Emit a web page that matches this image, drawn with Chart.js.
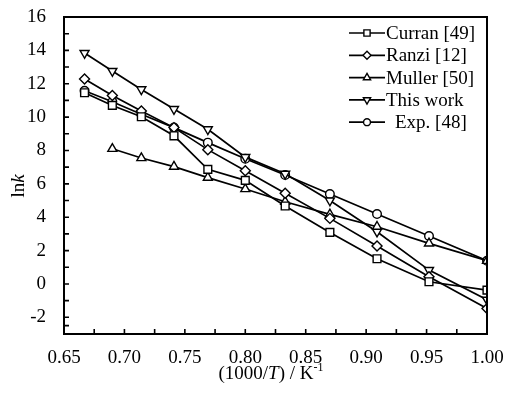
<!DOCTYPE html>
<html lang="en">
<head>
<meta charset="UTF-8">
<title>lnk vs 1000/T</title>
<script src="https://cdn.jsdelivr.net/npm/chart.js"></script>
<style>
  body { margin: 0; background: #fff; }
  #wrap { width: 506px; height: 398px; }
</style>
</head>
<body>
<div id="wrap"><canvas id="chart" width="506" height="398"></canvas></div>
<script>
// 1000/T values (T = 1500 ... 1000 K)
const invT = [0.667, 0.690, 0.714, 0.741, 0.769, 0.800, 0.833, 0.870, 0.909, 0.952, 1.000];
const curran   = [11.46, 10.70, 10.02, 8.88, 6.87, 6.21, 4.67, 3.09, 1.51, 0.13, -0.37];
const ranzi    = [12.28, 11.30, 10.36, 9.37, 8.05, 6.79, 5.43, 3.93, 2.27, 0.43, -1.47];
const muller   = [null, 8.10, 7.55, 7.03, 6.37, 5.69, 4.93, 4.17, 3.43, 2.43, 1.39];
const thisWork = [13.84, 12.76, 11.66, 10.48, 9.27, 7.60, 6.60, 5.00, 3.13, 0.83, -0.95];
const expData  = [11.58, 10.92, 10.17, 9.37, 8.47, 7.50, 6.53, 5.39, 4.19, 2.87, 1.39];

const seriesNames = ['Curran [49]', 'Ranzi [12]', 'Muller [50]', 'This work', 'Exp. [48]'];
const xTicks = [0.65, 0.70, 0.75, 0.80, 0.85, 0.90, 0.95, 1.00];
const yTicks = [-2, 0, 2, 4, 6, 8, 10, 12, 14, 16];

const FONT = '"Liberation Serif", "Times New Roman", serif';

function pts(arr) {
    return invT.map((x, i) => ({ x: x, y: arr[i] })).filter(p => p.y !== null);
}

function ds(label, arr, style, radius, rotation) {
    return {
        label: label,
        data: pts(arr),
        borderColor: '#000',
        borderWidth: 1.7,
        pointStyle: style,
        pointRadius: radius,
        pointRotation: rotation || 0,
        pointBorderWidth: 1.4,
        pointBorderColor: '#000',
        pointBackgroundColor: '#fff',
        tension: 0
    };
}

const framePlugin = {
    id: 'frame',
    afterDraw(chart) {
        const ctx = chart.ctx;
        const a = chart.chartArea;
        const xs = chart.scales.x, ys = chart.scales.y;
        ctx.save();
        ctx.strokeStyle = '#000';
        ctx.lineWidth = 2;
        ctx.strokeRect(a.left, a.top, a.right - a.left, a.bottom - a.top);

        // inward ticks (major + minor)
        ctx.lineWidth = 1.6;
        ctx.beginPath();
        for (let i = 0; i < xTicks.length; i++) {
            const vals = [xTicks[i]];
            if (i < xTicks.length - 1) vals.push((xTicks[i] + xTicks[i + 1]) / 2);
            vals.forEach(v => {
                const px = xs.getPixelForValue(v);
                ctx.moveTo(px, a.bottom);
                ctx.lineTo(px, a.bottom - 5);
            });
        }
        const yAll = [ys.min].concat(yTicks);
        for (let i = 0; i < yAll.length; i++) {
            const vals = [yAll[i]];
            if (i < yAll.length - 1) vals.push((yAll[i] + yAll[i + 1]) / 2);
            vals.forEach(v => {
                const py = ys.getPixelForValue(v);
                ctx.moveTo(a.left, py);
                ctx.lineTo(a.left + 5, py);
            });
        }
        ctx.stroke();

        // legend
        ctx.textBaseline = 'middle';
        chart.data.datasets.forEach((d, i) => {
            const y = 33 + i * 22.3;
            ctx.strokeStyle = '#000';
            ctx.lineWidth = 1.7;
            ctx.beginPath();
            ctx.moveTo(349, y);
            ctx.lineTo(385, y);
            ctx.stroke();
            ctx.fillStyle = '#fff';
            ctx.lineWidth = 1.4;
            Chart.helpers.drawPoint(ctx, {
                pointStyle: d.pointStyle,
                radius: d.pointRadius * 0.8,
                rotation: d.pointRotation,
                borderWidth: 1.4
            }, 367, y);
            ctx.fillStyle = '#000';
            ctx.textAlign = 'left';
            ctx.font = '19px ' + FONT;
            ctx.fillText(d.label, i === 4 ? 395 : 386, y + 1);
        });

        // x title: (1000/T) / K^-1
        ctx.textBaseline = 'alphabetic';
        ctx.fillStyle = '#000';
        const parts = [
            { t: '(1000/', f: '19px ' + FONT, dy: 0 },
            { t: 'T', f: 'italic 19px ' + FONT, dy: 0 },
            { t: ') / K', f: '19px ' + FONT, dy: 0 },
            { t: '-1', f: '12px ' + FONT, dy: -8 }
        ];
        let w = 0;
        parts.forEach(p => { ctx.font = p.f; p.w = ctx.measureText(p.t).width; w += p.w; });
        let x0 = 271 - w / 2;
        parts.forEach(p => {
            ctx.font = p.f;
            ctx.fillText(p.t, x0, 379 + p.dy);
            x0 += p.w;
        });

        // y title: lnk
        ctx.translate(19, 186);
        ctx.rotate(-Math.PI / 2);
        ctx.textBaseline = 'middle';
        const yp = [
            { t: 'ln', f: '19px ' + FONT },
            { t: 'k', f: 'italic 19px ' + FONT }
        ];
        w = 0;
        yp.forEach(p => { ctx.font = p.f; p.w = ctx.measureText(p.t).width; w += p.w; });
        x0 = -w / 2;
        yp.forEach(p => {
            ctx.font = p.f;
            ctx.fillText(p.t, x0, 0);
            x0 += p.w;
        });
        ctx.restore();
    }
};

new Chart(document.getElementById('chart'), {
    type: 'line',
    data: {
        datasets: [
            ds(seriesNames[0], curran, 'rect', 5.5),
            ds(seriesNames[1], ranzi, 'rectRot', 5),
            ds(seriesNames[2], muller, 'triangle', 5.2),
            ds(seriesNames[3], thisWork, 'triangle', 5.2, 180),
            ds(seriesNames[4], expData, 'circle', 4.3)
        ]
    },
    options: {
        responsive: false,
        animation: false,
        layout: { padding: { left: 0, top: 17, right: 19, bottom: 0 } },
        plugins: { legend: { display: false }, tooltip: { enabled: false } },
        scales: {
            x: {
                type: 'linear',
                min: 0.65,
                max: 1.0,
                afterBuildTicks: s => { s.ticks = xTicks.map(v => ({ value: v })); },
                afterFit: s => { s.height = 64; s.paddingLeft = 0; s.paddingRight = 0; },
                grid: { display: false },
                border: { display: false },
                ticks: {
                    color: '#000',
                    padding: 5,
                    maxRotation: 0,
                    font: { family: FONT, size: 19 },
                    callback: v => Number(v).toFixed(2)
                }
            },
            y: {
                type: 'linear',
                min: -3,
                max: 16,
                afterBuildTicks: s => { s.ticks = yTicks.map(v => ({ value: v })); },
                afterFit: s => { s.width = 64; s.paddingTop = 0; s.paddingBottom = 0; },
                grid: { display: false },
                border: { display: false },
                ticks: {
                    color: '#000',
                    padding: 10,
                    font: { family: FONT, size: 19 }
                }
            }
        }
    },
    plugins: [framePlugin]
});
</script>
</body>
</html>
